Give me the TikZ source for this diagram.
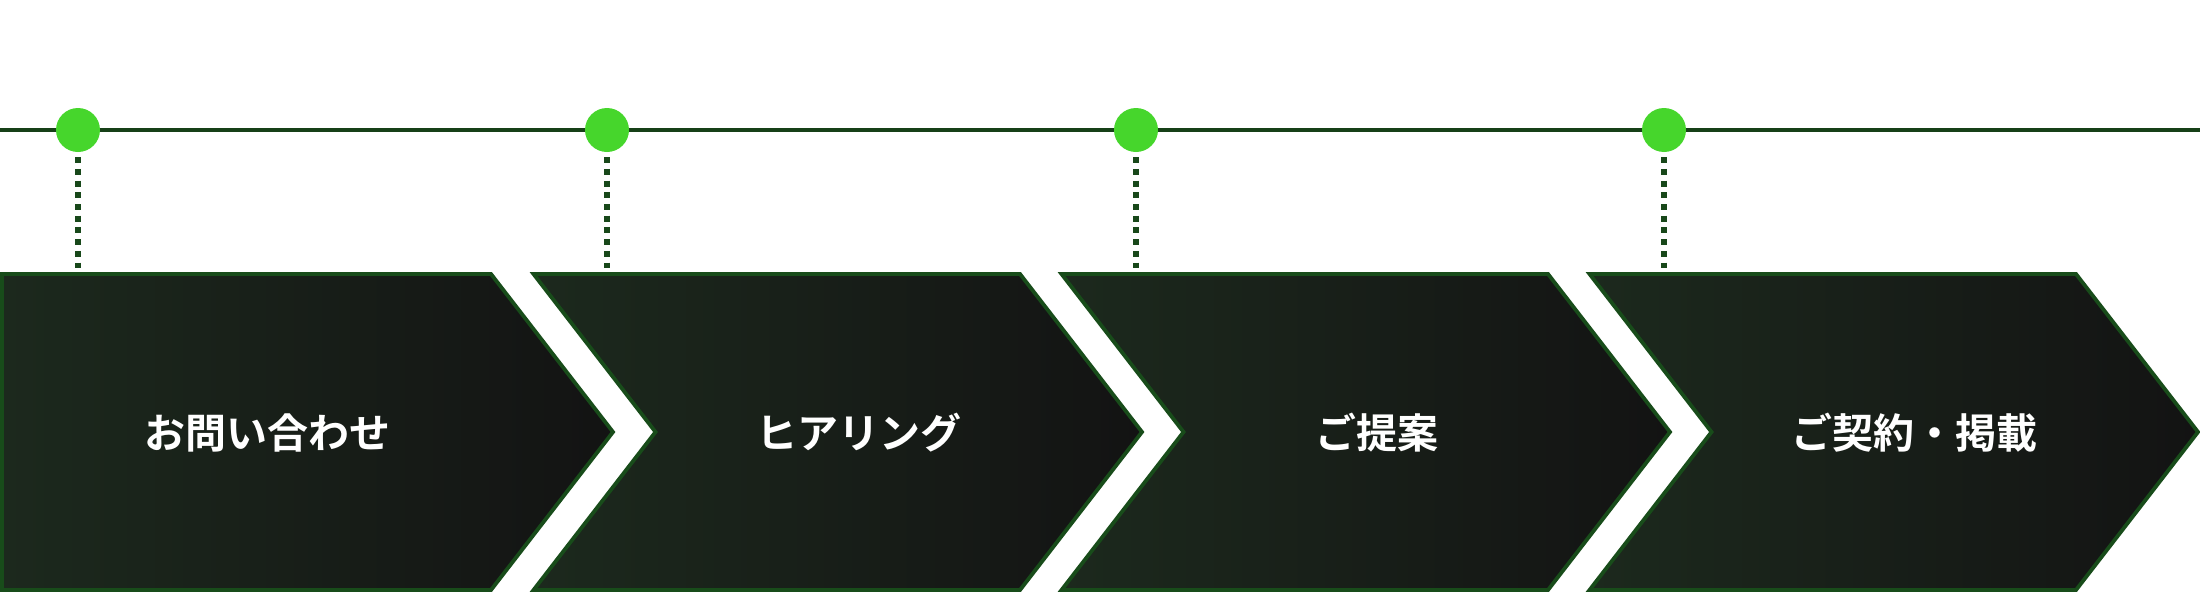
\documentclass[tikz,border=0pt]{standalone}
\usepackage{fontspec}
\newfontfamily\cjk{Noto Sans CJK JP}[BoldFont={Noto Sans CJK JP Bold}]
\definecolor{edgegreen}{RGB}{24,76,26}
\definecolor{linegreen}{RGB}{22,64,24}
\definecolor{dotgreen}{RGB}{70,214,44}
\definecolor{dotline}{RGB}{24,72,26}
\definecolor{fillA}{RGB}{28,41,29}
\definecolor{fillB}{RGB}{19,19,19}
\tikzset{
  chev/.style={draw=edgegreen, line width=3.8pt, line join=miter, left color=fillA, right color=fillB},
  dotmark/.style={circle, fill=dotgreen, draw=none, minimum size=44pt, inner sep=0pt},
  dotlink/.style={draw=dotline, line width=6pt, dash pattern=on 6pt off 5.7pt, shorten <=5pt},
  steplabel/.style={text=white, font=\cjk\bfseries\fontsize{41}{48}\selectfont, inner sep=0pt},
  timeline/.style={draw=linegreen, line width=4pt}
}
\begin{document}
\begin{tikzpicture}[x=1pt,y=-1pt]
\useasboundingbox (0,0) rectangle (2200,592);
% timeline
\coordinate (lineL) at (0,130);
\coordinate (lineR) at (2200,130);
\draw[timeline] (lineL) -- (lineR);
% chevrons
\shade[chev] (2,274) -- (491,274) -- (613,432) -- (491,590) -- (2,590) -- cycle;
\shade[chev] (533.5,274) -- (1020,274) -- (1142,432) -- (1020,590) -- (533.5,590) -- (655.5,432) -- cycle;
\shade[chev] (1061.5,274) -- (1548,274) -- (1670,432) -- (1548,590) -- (1061.5,590) -- (1183.5,432) -- cycle;
\shade[chev] (1589.5,274) -- (2076,274) -- (2198,432) -- (2076,590) -- (1589.5,590) -- (1711.5,432) -- cycle;
% labels
\node[steplabel] (s1) at (267,433) {お問い合わせ};
\node[steplabel] (s2) at (859,433) {ヒアリング};
\node[steplabel] (s3) at (1377,433) {ご提案};
\node[steplabel] (s4) at (1914,433) {ご契約・掲載};
% dots
\node[dotmark] (d1) at (78,130) {};
\node[dotmark] (d2) at (607,130) {};
\node[dotmark] (d3) at (1136,130) {};
\node[dotmark] (d4) at (1664,130) {};
\coordinate (t1) at (78,268.3);
\coordinate (t2) at (607,268.3);
\coordinate (t3) at (1136,268.3);
\coordinate (t4) at (1664,268.3);
\draw[dotlink] (d1.south) -- (t1);
\draw[dotlink] (d2.south) -- (t2);
\draw[dotlink] (d3.south) -- (t3);
\draw[dotlink] (d4.south) -- (t4);
\end{tikzpicture}
\end{document}
